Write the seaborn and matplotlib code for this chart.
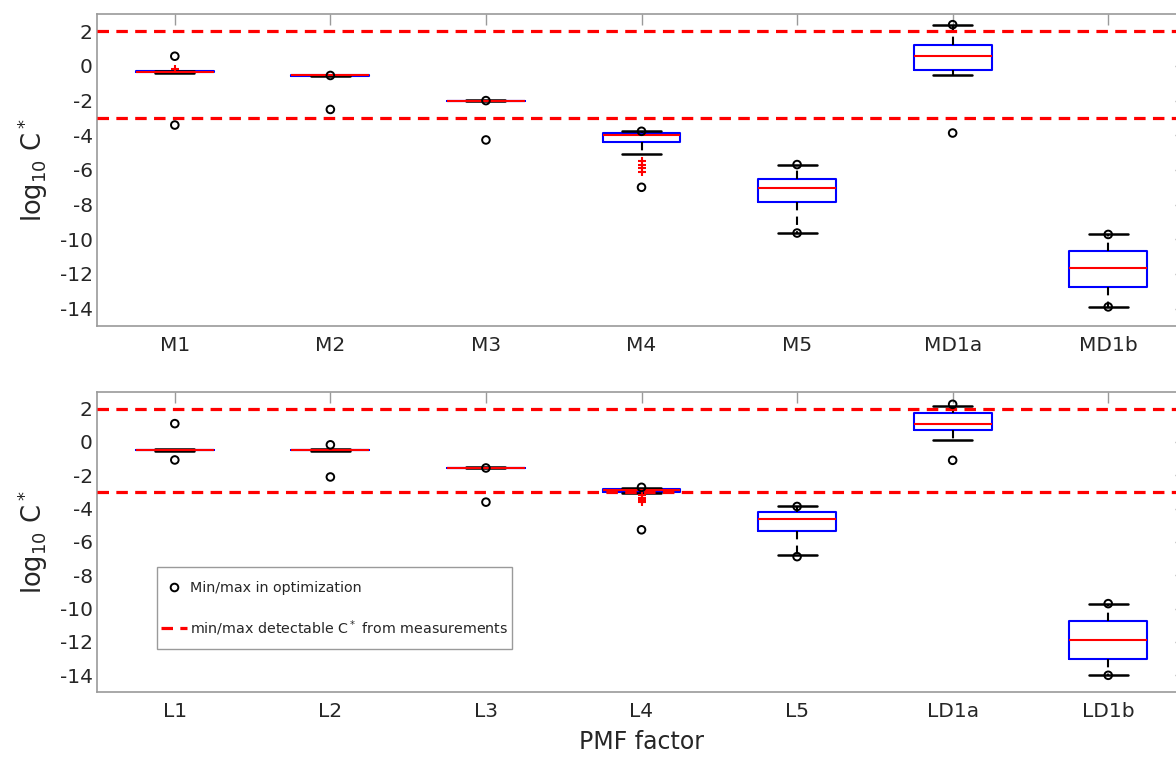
import numpy as np
import matplotlib
matplotlib.use("Agg")
import matplotlib.pyplot as plt
from matplotlib.lines import Line2D
from matplotlib.patches import Rectangle
import seaborn as sns

# --- data (log10 C*) --------------------------------------------------------
top_factors = ["M1", "M2", "M3", "M4", "M5", "MD1a", "MD1b"]
top_q1 = [-0.37, -0.57, -2.04, -4.41, -7.84, -0.21, -12.75]
top_med = [-0.34, -0.55, -2.02, -3.99, -7.05, 0.58, -11.64]
top_q3 = [-0.31, -0.53, -2.00, -3.85, -6.54, 1.19, -10.68]
top_lo = [-0.38, -0.58, -2.05, -5.08, -9.61, -0.53, -13.88]
top_hi = [-0.30, -0.52, -1.99, -3.77, -5.69, 2.38, -9.72]
top_fliers = [[-0.20], [], [], [-5.5, -5.7, -5.9, -6.1], [], [], []]
top_max = [0.56, -0.55, -2.00, -3.77, -5.69, 2.38, -9.72]
top_min = [-3.41, -2.51, -4.27, -7.00, -9.64, -3.87, -13.90]

bot_factors = ["L1", "L2", "L3", "L4", "L5", "LD1a", "LD1b"]
bot_q1 = [-0.51, -0.51, -1.58, -2.98, -5.34, 0.69, -13.00]
bot_med = [-0.49, -0.49, -1.56, -2.88, -4.63, 1.10, -11.91]
bot_q3 = [-0.46, -0.46, -1.54, -2.80, -4.23, 1.74, -10.72]
bot_lo = [-0.53, -0.53, -1.59, -3.08, -6.78, 0.13, -14.00]
bot_hi = [-0.45, -0.40, -1.53, -2.75, -3.87, 2.16, -9.70]
bot_fliers = [[], [], [], [-3.2, -3.35, -3.5, -3.62], [], [], []]
bot_max = [1.10, -0.17, -1.56, -2.72, -3.87, 2.26, -9.70]
bot_min = [-1.08, -2.10, -3.61, -5.27, -6.88, -1.10, -14.00]

# detection limits from measurements
detect_limits = [2, -3]

sns.set_theme(style="white")
plt.rcParams["font.family"] = ["DejaVu Sans"]
plt.rcParams["mathtext.default"] = "regular"
plt.rcParams["axes.unicode_minus"] = False

TXT = "#262626"
SPINE = "#9a9a9a"


def draw_panel(ax, factors, q1, med, q3, lo, hi, fliers, vmax, vmin):
    stats = [dict(q1=a, med=m, q3=b, whislo=l, whishi=h, fliers=f)
             for a, m, b, l, h, f in zip(q1, med, q3, lo, hi, fliers)]
    pos = np.arange(len(factors))
    ax.bxp(stats, positions=pos, widths=0.5, capwidths=0.25,
           manage_ticks=False, showfliers=True,
           boxprops=dict(color="blue", linewidth=1.5),
           medianprops=dict(color="red", linewidth=1.5),
           whiskerprops=dict(color="black", linewidth=1.5,
                             linestyle=(0, (4, 3))),
           capprops=dict(color="black", linewidth=1.8),
           flierprops=dict(marker="+", markeredgecolor="red",
                           markersize=6, markeredgewidth=1.5))
    for v in detect_limits:
        ax.axhline(v, color="red", linewidth=2.3,
                   linestyle=(0, (3.6, 2.3)), zorder=3)
    for vals in (vmax, vmin):
        sns.scatterplot(x=pos, y=vals, marker="o", s=30,
                        facecolor="none", edgecolor="black",
                        linewidth=1.4, zorder=4, ax=ax)

    ax.set_xlim(-0.5, len(factors) - 0.5)
    ax.set_ylim(-15, 3)
    ax.set_xticks(pos)
    ax.set_xticklabels(factors)
    ax.set_yticks(np.arange(-14, 3, 2))
    ax.tick_params(direction="in", length=8, width=1, color=SPINE,
                   top=True, right=True, labelsize=14.5, labelcolor=TXT)
    ax.tick_params(axis="y", pad=3)
    ax.tick_params(axis="x", pad=7)
    for s in ax.spines.values():
        s.set_color(SPINE)
        s.set_linewidth(1.2)
    ax.set_ylabel(r"log$_{10}$ C$^*$", fontsize=18.5, color=TXT)
    ax.yaxis.set_label_coords(-0.043, 0.5)


fig = plt.figure(figsize=(11.76, 7.57), dpi=100)
ax1 = fig.add_axes([0.0825, 0.5694, 0.926, 0.4122])
ax2 = fig.add_axes([0.0825, 0.0859, 0.926, 0.3963])

draw_panel(ax1, top_factors, top_q1, top_med, top_q3, top_lo, top_hi,
           top_fliers, top_max, top_min)
draw_panel(ax2, bot_factors, bot_q1, bot_med, bot_q3, bot_lo, bot_hi,
           bot_fliers, bot_max, bot_min)
ax2.set_xlabel("PMF factor", fontsize=17, color=TXT, labelpad=7)

# legend: MATLAB-like box, roomier vertically than horizontally
ax2.add_patch(Rectangle((0.055, 0.143), 0.326, 0.273,
                        transform=ax2.transAxes, facecolor="white",
                        edgecolor=SPINE, linewidth=1.0, zorder=4.9))
handles = [
    Line2D([], [], marker="o", linestyle="none", markerfacecolor="none",
           markeredgecolor="black", markeredgewidth=1.4, markersize=5.5),
    Line2D([], [], color="red", linewidth=2.3, linestyle=(0, (3.6, 2.3))),
]
labels = ["Min/max in optimization",
          r"min/max detectable C$^*$ from measurements"]
leg = ax2.legend(handles, labels, loc="lower left",
                 bbox_to_anchor=(0.055, 0.167), fontsize=10.3,
                 frameon=False, labelspacing=1.62, borderpad=0.3,
                 handlelength=1.8, handletextpad=0.2, borderaxespad=0)
leg.set_zorder(5)
for t in leg.get_texts():
    t.set_color(TXT)

fig.savefig("out.png", dpi=100)
